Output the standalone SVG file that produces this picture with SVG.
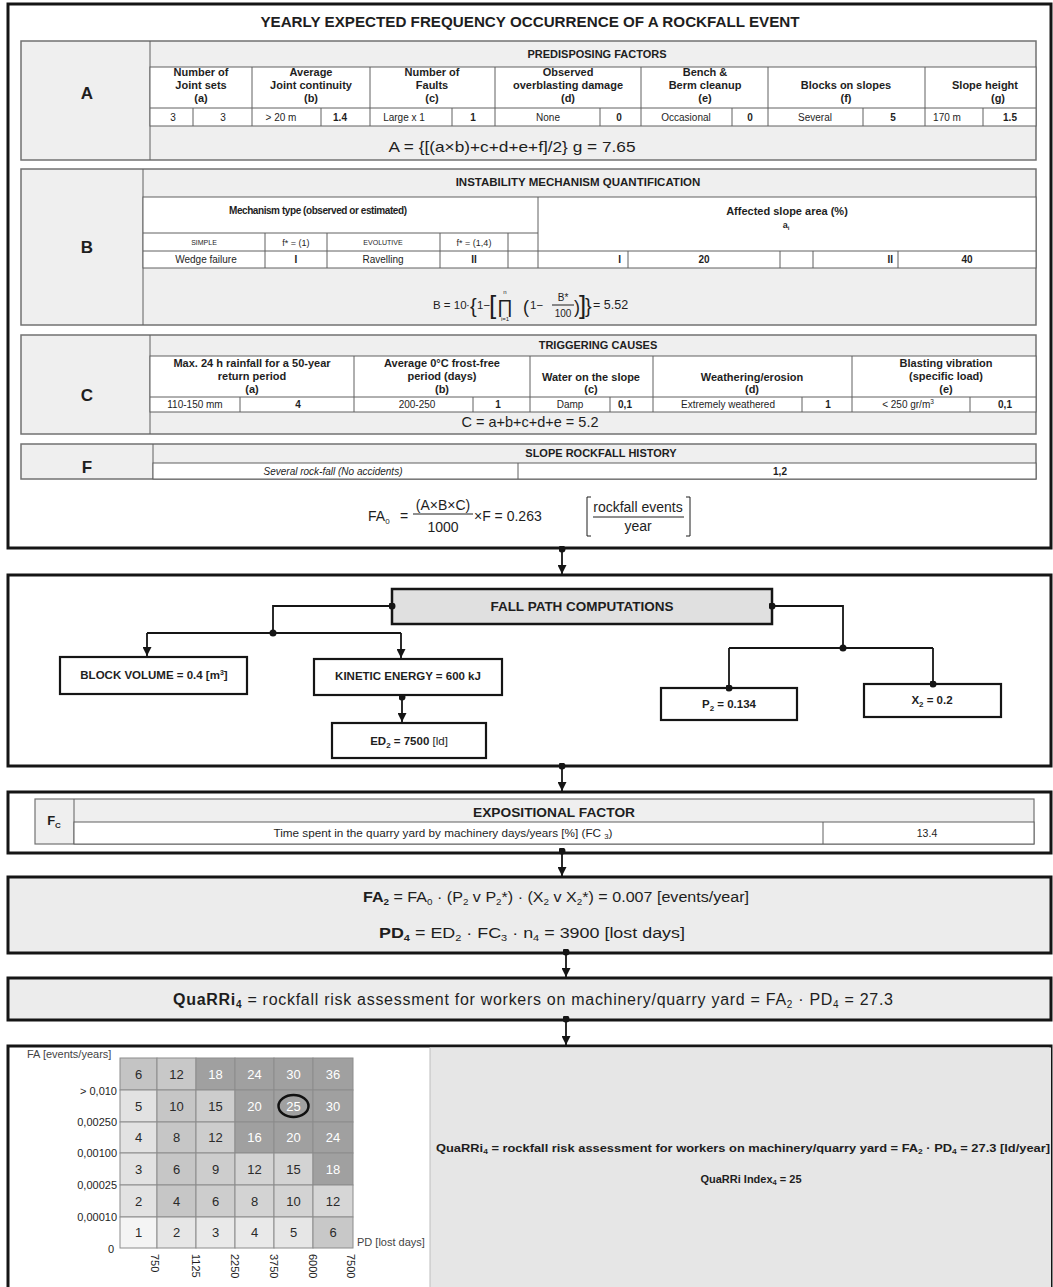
<svg xmlns="http://www.w3.org/2000/svg" width="1053" height="1287" viewBox="0 0 1053 1287">
<defs>
<style>
text{font-family:"Liberation Sans",Arial,Helvetica,sans-serif;fill:#1e1e1e}
.b{font-weight:bold}
.c{text-anchor:middle}
.outer{fill:#fff;stroke:#151515;stroke-width:3}
.sec{fill:#efefef;stroke:#727272;stroke-width:1.5}
.tbl{fill:#fff;stroke:#606060;stroke-width:1}
.ln{stroke:#606060;stroke-width:1;fill:none}
.hd{font-size:11px;font-weight:bold;text-anchor:middle}
.vl{font-size:10px;text-anchor:middle}
.sh{font-size:11px;font-weight:bold;text-anchor:middle}
.lab{font-size:17px;font-weight:bold;text-anchor:middle}
.conn{stroke:#151515;stroke-width:1.8;fill:none}
.node{fill:#fff;stroke:#151515;stroke-width:2.2}
.nt{font-size:11.5px;font-weight:bold;text-anchor:middle}
.cell{stroke:#8c8c8c;stroke-width:1}
.mn{font-size:13px;text-anchor:middle;fill:#2a2a2a}
.mw{font-size:13px;text-anchor:middle;fill:#ffffff}
.ax{font-size:11px;fill:#444}
</style>
<marker id="arr" viewBox="0 0 10 10" refX="10" refY="5" markerWidth="9" markerHeight="9" markerUnits="userSpaceOnUse" orient="auto"><path d="M0,0L10,5L0,10z" fill="#151515"/></marker>
<marker id="dot" viewBox="0 0 8 8" refX="4" refY="4" markerWidth="7" markerHeight="7" markerUnits="userSpaceOnUse"><circle cx="4" cy="4" r="4" fill="#151515"/></marker>
</defs>

<g id="box-frequency">
<rect class="outer" x="8" y="4" width="1043" height="544"/>
<text x="530" y="27" font-size="15.2" class="b c">YEARLY EXPECTED FREQUENCY OCCURRENCE OF A ROCKFALL EVENT</text>

<g id="section-A">
<rect class="sec" x="21" y="41" width="1015" height="119"/>
<line class="ln" x1="150" y1="41" x2="150" y2="160"/>
<text class="lab" x="87" y="99">A</text>
<text class="sh" x="597" y="58">PREDISPOSING FACTORS</text>
<rect class="tbl" x="150" y="67" width="886" height="59"/>
<path class="ln" d="M150,108H1036M252,67V126M370,67V126M495,67V126M641,67V126M768,67V126M925,67V126M193,108V126M321,108V126M452,108V126M600,108V126M732,108V126M863,108V126M983,108V126"/>
<text class="hd" x="201" y="76">Number of</text><text class="hd" x="201" y="89">Joint sets</text><text class="hd" x="201" y="102">(a)</text>
<text class="hd" x="311" y="76">Average</text><text class="hd" x="311" y="89">Joint continuity</text><text class="hd" x="311" y="102">(b)</text>
<text class="hd" x="432" y="76">Number of</text><text class="hd" x="432" y="89">Faults</text><text class="hd" x="432" y="102">(c)</text>
<text class="hd" x="568" y="76">Observed</text><text class="hd" x="568" y="89">overblasting damage</text><text class="hd" x="568" y="102">(d)</text>
<text class="hd" x="705" y="76">Bench &amp;</text><text class="hd" x="705" y="89">Berm cleanup</text><text class="hd" x="705" y="102">(e)</text>
<text class="hd" x="846" y="89">Blocks on slopes</text><text class="hd" x="846" y="102">(f)</text>
<text class="hd" x="985" y="89">Slope height</text><text class="hd" x="998" y="102">(g)</text>
<text class="vl" x="173" y="121">3</text>
<text class="vl" x="223" y="121">3</text>
<text class="vl" x="281" y="121">&gt; 20 m</text>
<text class="vl b" x="340" y="121">1.4</text>
<text class="vl" x="404" y="121">Large x 1</text>
<text class="vl b" x="473" y="121">1</text>
<text class="vl" x="548" y="121">None</text>
<text class="vl b" x="619" y="121">0</text>
<text class="vl" x="686" y="121">Occasional</text>
<text class="vl b" x="750" y="121">0</text>
<text class="vl" x="815" y="121">Several</text>
<text class="vl b" x="893" y="121">5</text>
<text class="vl" x="947" y="121">170 m</text>
<text class="vl b" x="1010" y="121">1.5</text>
<text x="512" y="152" font-size="14.5" class="c" textLength="247" lengthAdjust="spacingAndGlyphs">A = {[(a×b)+c+d+e+f]/2} g = 7.65</text>
</g>

<g id="section-B">
<rect class="sec" x="21" y="169" width="1015" height="156"/>
<line class="ln" x1="143" y1="169" x2="143" y2="325"/>
<text class="lab" x="87" y="253">B</text>
<text x="578" y="186" font-size="11.5" class="b c">INSTABILITY MECHANISM QUANTIFICATION</text>
<rect class="tbl" x="143" y="197" width="893" height="71"/>
<path class="ln" d="M538,197V268M143,233H538M143,251H1036M265,233V268M327,233V268M440,233V268M508,233V268M628,251V268M780,251V268M813,251V268M898,251V268"/>
<text x="318" y="214" font-size="10" class="b c" textLength="178">Mechanism type (observed or estimated)</text>
<text x="787" y="215" font-size="11" class="b c">Affected slope area (%)</text>
<text x="786" y="228" font-size="9" class="b c">a<tspan font-size="6" dy="2">i</tspan></text>
<text x="204" y="245" font-size="7" class="c">SIMPLE</text>
<text x="296" y="246" font-size="9" class="c">f* = (1)</text>
<text x="383" y="245" font-size="7" class="c">EVOLUTIVE</text>
<text x="474" y="246" font-size="9" class="c">f* = (1,4)</text>
<text class="vl" x="206" y="263">Wedge failure</text>
<text class="vl b" x="296" y="263">I</text>
<text class="vl" x="383" y="263">Ravelling</text>
<text class="vl b" x="474" y="263">II</text>
<text class="b" font-size="10" x="621" y="263" text-anchor="end">I</text>
<text class="vl b" x="704" y="263">20</text>
<text class="b" font-size="10" x="893" y="263" text-anchor="end">II</text>
<text class="vl b" x="967" y="263">40</text>
<g id="formula-B">
<text x="433" y="309" font-size="11.5">B = 10</text>
<text x="466" y="309" font-size="11.5">·</text>
<text x="470" y="313" font-size="20">{</text>
<text x="477" y="309" font-size="11.5">1−</text>
<text x="489" y="314" font-size="26">[</text>
<text x="497" y="313" font-size="19">∏</text>
<text x="505" y="294" font-size="6" class="c">n</text>
<text x="505" y="321" font-size="6" class="c">i=1</text>
<text x="523" y="313" font-size="18">(</text>
<text x="530" y="309" font-size="11.5">1−</text>
<text x="563" y="301" font-size="10" class="c">B*</text>
<line x1="552" y1="305" x2="574" y2="305" stroke="#1e1e1e" stroke-width="1"/>
<text x="563" y="317" font-size="10" class="c">100</text>
<text x="574" y="313" font-size="18">)</text>
<text x="579" y="314" font-size="26">]</text>
<text x="585" y="313" font-size="20">}</text>
<text x="593" y="309" font-size="12.5">= 5.52</text>
</g>
</g>

<g id="section-C">
<rect class="sec" x="21" y="335" width="1015" height="99"/>
<line class="ln" x1="150" y1="335" x2="150" y2="434"/>
<text class="lab" x="87" y="401">C</text>
<text class="sh" x="598" y="349">TRIGGERING CAUSES</text>
<rect class="tbl" x="150" y="356" width="886" height="56"/>
<path class="ln" d="M150,397H1036M354,356V412M530,356V412M653,356V412M852,356V412M240,397V412M473,397V412M610,397V412M802,397V412M970,397V412"/>
<text class="hd" x="252" y="367">Max. 24 h rainfall for a 50-year</text><text class="hd" x="252" y="380">return period</text><text class="hd" x="252" y="393">(a)</text>
<text class="hd" x="442" y="367">Average 0°C frost-free</text><text class="hd" x="442" y="380">period (days)</text><text class="hd" x="442" y="393">(b)</text>
<text class="hd" x="591" y="381">Water on the slope</text><text class="hd" x="591" y="393">(c)</text>
<text class="hd" x="752" y="381">Weathering/erosion</text><text class="hd" x="752" y="393">(d)</text>
<text class="hd" x="946" y="367">Blasting vibration</text><text class="hd" x="946" y="380">(specific load)</text><text class="hd" x="946" y="393">(e)</text>
<text class="vl" x="195" y="408">110-150 mm</text>
<text class="vl b" x="298" y="408">4</text>
<text class="vl" x="417" y="408">200-250</text>
<text class="vl b" x="498" y="408">1</text>
<text class="vl" x="570" y="408">Damp</text>
<text class="vl b" x="625" y="408">0,1</text>
<text class="vl" x="728" y="408">Extremely weathered</text>
<text class="vl b" x="828" y="408">1</text>
<text class="vl" x="908" y="408">&lt; 250 gr/m<tspan font-size="6.5" dy="-4">3</tspan></text>
<text class="vl b" x="1005" y="408">0,1</text>
<text x="530" y="427" font-size="14.5" class="c">C = a+b+c+d+e = 5.2</text>
</g>

<g id="section-F">
<rect class="sec" x="21" y="444" width="1015" height="35"/>
<line class="ln" x1="153" y1="444" x2="153" y2="479"/>
<text class="lab" x="87" y="473">F</text>
<text class="sh" x="601" y="457">SLOPE ROCKFALL HISTORY</text>
<rect class="tbl" x="153" y="463" width="883" height="16"/>
<line class="ln" x1="518" y1="463" x2="518" y2="479"/>
<text x="333" y="475" font-size="10" font-style="italic" class="c">Several rock-fall (No accidents)</text>
<text x="780" y="475" font-size="10" class="b c">1,2</text>
</g>

<g id="formula-FA0">
<text x="368" y="521" font-size="14">FA<tspan font-size="8" dy="3">0</tspan></text>
<text x="400" y="521" font-size="14">=</text>
<text x="443" y="510" font-size="14" class="c">(A×B×C)</text>
<line x1="413" y1="514" x2="473" y2="514" stroke="#1e1e1e" stroke-width="1"/>
<text x="443" y="532" font-size="14" class="c">1000</text>
<text x="474" y="521" font-size="14">×F = 0.263</text>
<path d="M591,497H587V536H591M686,497H690V536H686" fill="none" stroke="#1e1e1e" stroke-width="1"/>
<text x="638" y="512" font-size="14" class="c">rockfall events</text>
<line x1="593" y1="517" x2="684" y2="517" stroke="#1e1e1e" stroke-width="1"/>
<text x="638" y="531" font-size="14" class="c">year</text>
</g>
</g>

<g id="box-fallpath">
<rect class="outer" x="8" y="575" width="1043" height="191"/>
</g>
<g id="node-fallpath"><rect x="392" y="589" width="380" height="35" fill="#e0e0e0" stroke="#151515" stroke-width="2.5"/><text x="582" y="611" font-size="13.5" class="b c">FALL PATH COMPUTATIONS</text></g>
<g id="node-block"><rect class="node" x="60" y="657" width="187" height="37"/><text class="nt" x="154" y="679">BLOCK VOLUME = 0.4 [m<tspan font-size="7" dy="-4">3</tspan><tspan dy="4">]</tspan></text></g>
<g id="node-kinetic"><rect class="node" x="314" y="659" width="188" height="36"/><text class="nt" x="408" y="680">KINETIC ENERGY = 600 kJ</text></g>
<g id="node-ed2"><rect class="node" x="332" y="723" width="154" height="35"/><text class="nt" x="409" y="745">ED<tspan font-size="8" dy="3">2</tspan><tspan dy="-3"> = 7500 </tspan><tspan font-weight="normal">[ld]</tspan></text></g>
<g id="node-p2"><rect class="node" x="661" y="688" width="136" height="32"/><text class="nt" x="729" y="708">P<tspan font-size="8" dy="3">2</tspan><tspan dy="-3"> = 0.134</tspan></text></g>
<g id="node-x2"><rect class="node" x="864" y="684" width="137" height="33"/><text class="nt" x="932" y="704">X<tspan font-size="8" dy="3">2</tspan><tspan dy="-3"> = 0.2</tspan></text></g>

<g id="box-expositional">
<rect class="outer" x="8" y="792" width="1043" height="61"/>
<rect x="35" y="799" width="999" height="45" fill="#efefef" stroke="#727272" stroke-width="1.2"/>
<line class="ln" x1="74" y1="799" x2="74" y2="844"/>
<rect class="tbl" x="74" y="822" width="960" height="22"/>
<line class="ln" x1="823" y1="822" x2="823" y2="844"/>
<text x="54" y="825" font-size="13" class="b c">F<tspan font-size="8" dy="3">C</tspan></text>
<text x="554" y="817" font-size="12.5" class="b c" textLength="162" lengthAdjust="spacingAndGlyphs">EXPOSITIONAL FACTOR</text>
<text x="443" y="837" font-size="10.5" class="c" textLength="339" lengthAdjust="spacingAndGlyphs">Time spent in the quarry yard by machinery days/years [%]  (FC <tspan font-size="7" dy="2">3</tspan><tspan dy="-2">)</tspan></text>
<text x="927" y="837" font-size="10.5" class="c">13.4</text>
</g>

<g id="box-fa2-pd4">
<rect x="8" y="877" width="1043" height="76" fill="#ececec" stroke="#151515" stroke-width="3"/>
<text x="556" y="902" font-size="15.5" class="c" textLength="386" lengthAdjust="spacingAndGlyphs"><tspan font-weight="bold">FA<tspan font-size="9.5" dy="3">2</tspan></tspan><tspan dy="-3"> = FA</tspan><tspan font-size="9.5" dy="3">0</tspan><tspan dy="-3"> · (P</tspan><tspan font-size="9.5" dy="3">2</tspan><tspan dy="-3"> v P</tspan><tspan font-size="9.5" dy="3">2</tspan><tspan dy="-3">*) · (X</tspan><tspan font-size="9.5" dy="3">2</tspan><tspan dy="-3"> v X</tspan><tspan font-size="9.5" dy="3">2</tspan><tspan dy="-3">*) = 0.007 [events/year]</tspan></text>
<text x="532" y="938" font-size="15.5" class="c" textLength="306" lengthAdjust="spacingAndGlyphs"><tspan font-weight="bold">PD<tspan font-size="9.5" dy="3">4</tspan></tspan><tspan dy="-3"> = ED</tspan><tspan font-size="9.5" dy="3">2</tspan><tspan dy="-3"> · FC</tspan><tspan font-size="9.5" dy="3">3</tspan><tspan dy="-3"> · n</tspan><tspan font-size="9.5" dy="3">4</tspan><tspan dy="-3"> = 3900 [lost days]</tspan></text>
</g>

<g id="box-quarri">
<rect x="8" y="978" width="1043" height="42" fill="#ececec" stroke="#151515" stroke-width="3"/>
<text x="533" y="1005" font-size="16" class="c" textLength="720"><tspan font-weight="bold">QuaRRi<tspan font-size="10" dy="3">4</tspan></tspan><tspan dy="-3"> = rockfall risk assessment for workers on machinery/quarry yard  =  FA</tspan><tspan font-size="10" dy="3">2</tspan><tspan dy="-3"> ·  PD</tspan><tspan font-size="10" dy="3">4</tspan><tspan dy="-3"> = 27.3</tspan></text>
</g>

<g id="box-matrix">
<rect class="outer" x="8" y="1046" width="1043" height="260"/>
<rect x="430" y="1047.5" width="621" height="240" fill="#e6e6e6"/>
<line x1="430" y1="1047.5" x2="430" y2="1287" stroke="#bdbdbd" stroke-width="1"/>
<text x="743" y="1152" font-size="11.5" class="b c" textLength="614" lengthAdjust="spacingAndGlyphs">QuaRRi<tspan font-size="7.5" dy="2">4</tspan><tspan dy="-2"> = rockfall risk assessment for workers on machinery/quarry yard = FA</tspan><tspan font-size="7.5" dy="2">2</tspan><tspan dy="-2"> · PD</tspan><tspan font-size="7.5" dy="2">4</tspan><tspan dy="-2"> = 27.3 [ld/year]</tspan></text>
<text x="751" y="1183" font-size="11" class="b c">QuaRRi Index<tspan font-size="7.5" dy="2">4</tspan><tspan dy="-2"> = 25</tspan></text>

<g id="risk-matrix">
<text class="ax" x="27" y="1058">FA [events/years]</text>
<g class="cell">
<rect x="120" y="1058" width="37" height="32" fill="#c4c4c4"/><rect x="157" y="1058" width="39" height="32" fill="#c8c8c8"/><rect x="196" y="1058" width="39" height="32" fill="#a0a0a0"/><rect x="235" y="1058" width="39" height="32" fill="#a0a0a0"/><rect x="274" y="1058" width="39" height="32" fill="#a0a0a0"/><rect x="313" y="1058" width="40" height="32" fill="#a0a0a0"/>
<rect x="120" y="1090" width="37" height="32" fill="#e2e2e2"/><rect x="157" y="1090" width="39" height="32" fill="#c6c6c6"/><rect x="196" y="1090" width="39" height="32" fill="#cdcdcd"/><rect x="235" y="1090" width="39" height="32" fill="#a0a0a0"/><rect x="274" y="1090" width="39" height="32" fill="#a0a0a0"/><rect x="313" y="1090" width="40" height="32" fill="#a0a0a0"/>
<rect x="120" y="1122" width="37" height="31" fill="#e2e2e2"/><rect x="157" y="1122" width="39" height="31" fill="#c6c6c6"/><rect x="196" y="1122" width="39" height="31" fill="#cdcdcd"/><rect x="235" y="1122" width="39" height="31" fill="#a0a0a0"/><rect x="274" y="1122" width="39" height="31" fill="#a0a0a0"/><rect x="313" y="1122" width="40" height="31" fill="#a0a0a0"/>
<rect x="120" y="1153" width="37" height="32" fill="#e2e2e2"/><rect x="157" y="1153" width="39" height="32" fill="#c6c6c6"/><rect x="196" y="1153" width="39" height="32" fill="#cdcdcd"/><rect x="235" y="1153" width="39" height="32" fill="#d3d3d3"/><rect x="274" y="1153" width="39" height="32" fill="#d3d3d3"/><rect x="313" y="1153" width="40" height="32" fill="#a0a0a0"/>
<rect x="120" y="1185" width="37" height="32" fill="#e2e2e2"/><rect x="157" y="1185" width="39" height="32" fill="#c6c6c6"/><rect x="196" y="1185" width="39" height="32" fill="#cdcdcd"/><rect x="235" y="1185" width="39" height="32" fill="#d3d3d3"/><rect x="274" y="1185" width="39" height="32" fill="#d3d3d3"/><rect x="313" y="1185" width="40" height="32" fill="#d6d6d6"/>
<rect x="120" y="1217" width="37" height="31" fill="#f4f4f4"/><rect x="157" y="1217" width="39" height="31" fill="#e6e6e6"/><rect x="196" y="1217" width="39" height="31" fill="#e9e9e9"/><rect x="235" y="1217" width="39" height="31" fill="#e9e9e9"/><rect x="274" y="1217" width="39" height="31" fill="#e6e6e6"/><rect x="313" y="1217" width="40" height="31" fill="#c8c8c8"/>
</g>
<text class="mn" x="138.5" y="1079">6</text><text class="mn" x="176.5" y="1079">12</text><text class="mw" x="215.5" y="1079">18</text><text class="mw" x="254.5" y="1079">24</text><text class="mw" x="293.5" y="1079">30</text><text class="mw" x="333" y="1079">36</text>
<text class="mn" x="138.5" y="1111">5</text><text class="mn" x="176.5" y="1111">10</text><text class="mn" x="215.5" y="1111">15</text><text class="mw" x="254.5" y="1111">20</text><text class="mw" x="293.5" y="1111">25</text><text class="mw" x="333" y="1111">30</text>
<text class="mn" x="138.5" y="1142">4</text><text class="mn" x="176.5" y="1142">8</text><text class="mn" x="215.5" y="1142">12</text><text class="mw" x="254.5" y="1142">16</text><text class="mw" x="293.5" y="1142">20</text><text class="mw" x="333" y="1142">24</text>
<text class="mn" x="138.5" y="1174">3</text><text class="mn" x="176.5" y="1174">6</text><text class="mn" x="215.5" y="1174">9</text><text class="mn" x="254.5" y="1174">12</text><text class="mn" x="293.5" y="1174">15</text><text class="mw" x="333" y="1174">18</text>
<text class="mn" x="138.5" y="1206">2</text><text class="mn" x="176.5" y="1206">4</text><text class="mn" x="215.5" y="1206">6</text><text class="mn" x="254.5" y="1206">8</text><text class="mn" x="293.5" y="1206">10</text><text class="mn" x="333" y="1206">12</text>
<text class="mn" x="138.5" y="1237">1</text><text class="mn" x="176.5" y="1237">2</text><text class="mn" x="215.5" y="1237">3</text><text class="mn" x="254.5" y="1237">4</text><text class="mn" x="293.5" y="1237">5</text><text class="mn" x="333" y="1237">6</text>
<ellipse cx="293.5" cy="1106" rx="15" ry="11" fill="none" stroke="#111" stroke-width="2.5"/>
<g class="ax" text-anchor="end">
<text x="117" y="1095">&gt; 0,010</text>
<text x="117" y="1126">0,00250</text>
<text x="117" y="1157">0,00100</text>
<text x="117" y="1189">0,00025</text>
<text x="117" y="1221">0,00010</text>
<text x="114" y="1253">0</text>
</g>
<text class="ax" x="357" y="1246">PD [lost days]</text>
<g class="ax">
<text transform="translate(151,1254) rotate(90)">750</text>
<text transform="translate(192,1254) rotate(90)">1125</text>
<text transform="translate(231,1254) rotate(90)">2250</text>
<text transform="translate(270,1254) rotate(90)">3750</text>
<text transform="translate(309,1254) rotate(90)">6000</text>
<text transform="translate(347,1254) rotate(90)">7500</text>
</g>
</g>
</g>

<g id="connectors">
<path class="conn" d="M562,549V574" marker-start="url(#dot)" marker-end="url(#arr)"/>
<path class="conn" d="M392,606H273V633" marker-start="url(#dot)"/>
<path class="conn" d="M147,633H401"/>
<circle cx="273" cy="633" r="3.5" fill="#151515"/>
<path class="conn" d="M147,633V656" marker-end="url(#arr)"/>
<path class="conn" d="M401,633V658" marker-end="url(#arr)"/>
<path class="conn" d="M402,697V722" marker-start="url(#dot)" marker-end="url(#arr)"/>
<path class="conn" d="M772,606H843V648" marker-start="url(#dot)"/>
<path class="conn" d="M729,648H933"/>
<circle cx="843" cy="648" r="3.5" fill="#151515"/>
<path class="conn" d="M729,648V688" marker-end="url(#dot)"/>
<path class="conn" d="M933,648V684" marker-end="url(#dot)"/>
<path class="conn" d="M562,766V791" marker-start="url(#dot)" marker-end="url(#arr)"/>
<path class="conn" d="M562,851V876" marker-start="url(#dot)" marker-end="url(#arr)"/>
<path class="conn" d="M566,952V977" marker-start="url(#dot)" marker-end="url(#arr)"/>
<path class="conn" d="M566,1019V1045" marker-start="url(#dot)" marker-end="url(#arr)"/>
</g>
</svg>
